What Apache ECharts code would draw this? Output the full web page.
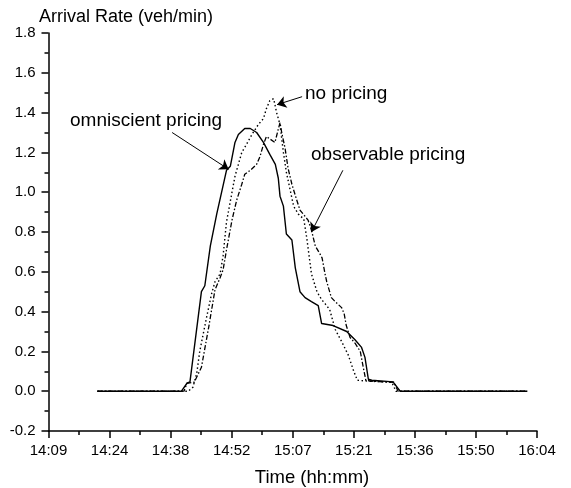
<!DOCTYPE html>
<html>
<head>
<meta charset="utf-8">
<script src="https://cdn.jsdelivr.net/npm/echarts@6/dist/echarts.min.js"></script>
<style>
  html,body{margin:0;padding:0;background:#fff;}
  #chart{width:571px;height:488px;}
</style>
</head>
<body>
<div id="chart"></div>
<script>
// x values: minutes after 14:09:45
var tickLabels = ['14:09','14:24','14:38','14:52','15:07','15:21','15:36','15:50','16:04'];

var omniT = [11.5,31.3,32.6,33.3,36.0,36.8,38.1,39.6,41.9,42.8,43.9,44.7,46.2,47.5,49.0,50.6,52.1,53.4,54.1,54.5,55.3,56.0,57.3,58.1,59.2,60.4,61.9,63.5,64.3,67.0,70.2,72.1,73.7,74.5,75.3,76.1,81.1,82.8,112.7];
var omniV = [0,0,0.04,0.047,0.50,0.53,0.73,0.89,1.11,1.13,1.25,1.29,1.32,1.32,1.30,1.25,1.19,1.14,1.07,0.98,0.93,0.79,0.76,0.62,0.50,0.47,0.45,0.43,0.34,0.33,0.30,0.26,0.22,0.17,0.06,0.055,0.047,0,0];

var noT = [11.5,32.9,34.0,34.9,35.6,37.2,38.4,39.2,40.4,41.1,41.9,43.2,43.9,44.7,45.5,46.6,47.9,49.4,50.6,51.3,52.1,53.0,53.7,54.5,55.3,56.0,56.8,57.7,58.8,60.1,60.8,61.9,63.2,64.3,65.1,66.2,67.5,69.0,70.6,71.7,72.7,75.7,80.8,81.8,112.7];
var noV = [0,0,0.02,0.09,0.20,0.37,0.49,0.55,0.59,0.68,0.85,1.00,1.08,1.14,1.20,1.24,1.29,1.34,1.37,1.42,1.46,1.47,1.40,1.34,1.20,1.10,1.02,0.93,0.89,0.865,0.77,0.59,0.50,0.46,0.44,0.41,0.31,0.25,0.18,0.11,0.055,0.05,0.045,0,0];

var obsT = [11.5,31.9,32.6,34.3,36.0,37.7,39.2,40.4,41.1,41.9,43.2,44.3,45.5,46.2,47.5,49.0,49.8,50.6,51.3,53.3,54.5,54.9,55.7,56.4,57.3,58.3,59.2,61.1,61.9,62.8,63.9,64.4,65.1,65.5,66.6,67.5,69.0,69.6,70.1,71.0,72.2,73.4,74.1,74.7,76.1,81.3,82.3,112.7];
var obsV = [0,0,0.04,0.045,0.12,0.32,0.51,0.57,0.61,0.71,0.86,0.96,1.04,1.09,1.11,1.14,1.18,1.24,1.28,1.25,1.35,1.30,1.22,1.12,1.04,0.97,0.91,0.86,0.81,0.73,0.69,0.67,0.59,0.55,0.47,0.45,0.42,0.39,0.33,0.27,0.24,0.20,0.12,0.055,0.05,0.045,0,0];

var tickStep = 14.375;

function pairs(t, v){
  var out = [];
  for(var i=0;i<t.length;i++){ out.push([t[i], v[i]]); }
  return out;
}

// pointer arrows, [from, to] in data units
function arrow(a, b){
  return {
    symbol:['none','arrow'], symbolSize:9, silent:true,
    label:{show:false}, animation:false,
    lineStyle:{color:'#000', width:1, type:'solid'},
    data:[[{coord:a},{coord:b}]]
  };
}

var txt = {fontFamily:'Liberation Sans, Arial, sans-serif', fill:'#000'};

var chart = echarts.init(document.getElementById('chart'));
chart.setOption({
  animation:false,
  backgroundColor:'#fff',
  grid:{left:48.5, right:34, top:33, bottom:57},
  xAxis:{
    type:'value', min:0, max:115, interval:tickStep,
    axisLine:{onZero:false, lineStyle:{color:'#000', width:1.5}},
    axisTick:{length:7, lineStyle:{color:'#000', width:1.5}},
    minorTick:{show:true, splitNumber:2, length:4, lineStyle:{color:'#000', width:1.5}},
    splitLine:{show:false},
    axisLabel:{
      color:'#000', fontSize:15, margin:12, fontFamily:'Liberation Sans, Arial, sans-serif',
      formatter:function(v){ return tickLabels[Math.round(v/tickStep)] || ''; }
    }
  },
  yAxis:{
    type:'value', min:-0.2, max:1.8, interval:0.2,
    axisLine:{show:true, onZero:false, lineStyle:{color:'#000', width:1.5}},
    axisTick:{show:true, length:7, lineStyle:{color:'#000', width:1.5}},
    minorTick:{show:true, splitNumber:2, length:4, lineStyle:{color:'#000', width:1.5}},
    splitLine:{show:false},
    axisLabel:{
      color:'#000', fontSize:15, margin:13, fontFamily:'Liberation Sans, Arial, sans-serif',
      formatter:function(v){ return v.toFixed(1); }
    }
  },
  series:[
    {
      name:'omniscient pricing', type:'line', symbol:'none', data:pairs(omniT, omniV),
      lineStyle:{color:'#000', width:1.4, type:'solid'},
      markLine:arrow([29.1,1.30],[42.4,1.115])
    },
    {
      name:'no pricing', type:'line', symbol:'none', data:pairs(noT, noV),
      lineStyle:{color:'#000', width:1.4, type:[1.5,2.5]},
      markLine:arrow([59.7,1.48],[53.8,1.44])
    },
    {
      name:'observable pricing', type:'line', symbol:'none', data:pairs(obsT, obsV),
      lineStyle:{color:'#000', width:1.3, type:[5,2,1.5,2]},
      markLine:arrow([69.3,1.11],[61.9,0.80])
    }
  ],
  graphic:[
    {type:'text', left:39, top:8, style:Object.assign({text:'Arrival Rate (veh/min)', fontSize:18}, txt)},
    {type:'text', x:312, y:478, style:Object.assign({text:'Time (hh:mm)', fontSize:18.5, align:'center', verticalAlign:'middle'}, txt)},
    {type:'text', x:70, y:121, style:Object.assign({text:'omniscient pricing', fontSize:19, verticalAlign:'middle'}, txt)},
    {type:'text', x:305, y:94, style:Object.assign({text:'no pricing', fontSize:19, verticalAlign:'middle'}, txt)},
    {type:'text', x:311, y:155, style:Object.assign({text:'observable pricing', fontSize:19, verticalAlign:'middle'}, txt)}
  ]
});
</script>
</body>
</html>
